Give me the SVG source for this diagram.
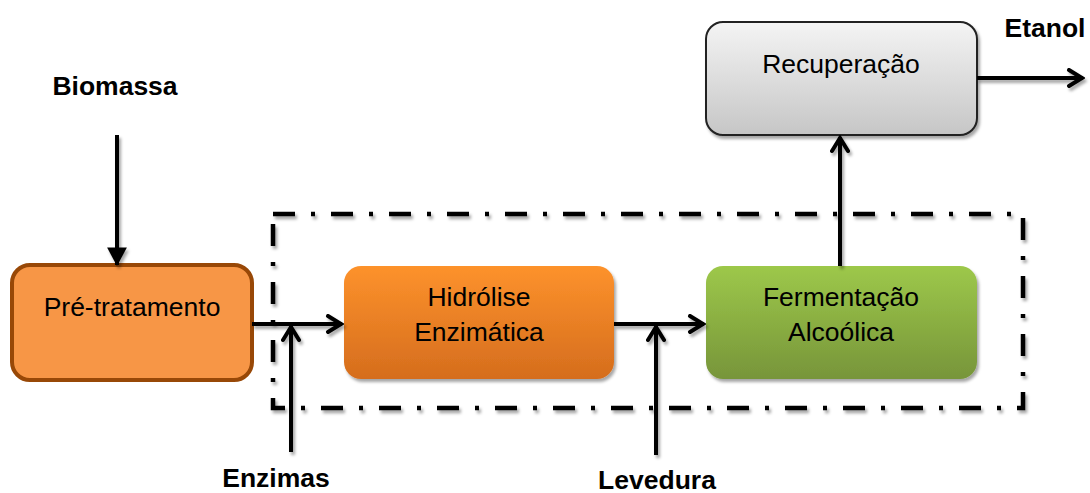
<svg xmlns="http://www.w3.org/2000/svg" width="1090" height="493" viewBox="0 0 1090 493">
<defs>
<linearGradient id="gOrange" x1="0" y1="0" x2="0" y2="1"><stop offset="0" stop-color="#fd922c"/><stop offset="1" stop-color="#d56d1d"/></linearGradient>
<linearGradient id="gGreen" x1="0" y1="0" x2="0" y2="1"><stop offset="0" stop-color="#9dc84a"/><stop offset="1" stop-color="#77953a"/></linearGradient>
<linearGradient id="gGrey" x1="0" y1="0" x2="0" y2="1"><stop offset="0" stop-color="#f4f4f4"/><stop offset="1" stop-color="#c6c6c6"/></linearGradient>
<filter id="sh" x="-10%" y="-10%" width="130%" height="140%"><feDropShadow dx="2" dy="3" stdDeviation="1.5" flood-color="#000" flood-opacity="0.35"/></filter>
<marker id="open" viewBox="0 0 20 20" refX="18" refY="10" markerWidth="20" markerHeight="20" markerUnits="userSpaceOnUse" orient="auto"><path d="M4,2 L17,10 L4,18" fill="none" stroke="#000" stroke-width="4" stroke-linecap="round" stroke-linejoin="miter"/></marker>
<marker id="fill" viewBox="0 0 20 20" refX="18" refY="10" markerWidth="22" markerHeight="22" markerUnits="userSpaceOnUse" orient="auto"><path d="M2,1 L19,10 L2,19 Z" fill="#000"/></marker>
</defs>
<style>
.lbl{font-family:"Liberation Sans",Arial,sans-serif;font-size:26.5px;fill:#000;text-anchor:middle}
.b{font-weight:bold}
.ln{stroke:#000;stroke-width:4;fill:none}
</style>
<g id="boundary" filter="url(#sh)">
<rect x="273" y="214" width="750" height="194" fill="none" stroke="#000" stroke-width="4.5" stroke-dasharray="22 16 4 16"/>
</g>
<g id="pre-tratamento">
<rect x="12" y="265" width="240" height="115" rx="18" fill="#f79646" stroke="#984807" stroke-width="4"/>
<text class="lbl" x="132" y="316">Pré-tratamento</text>
</g>
<g id="hidrolise">
<rect x="344" y="266" width="270" height="113" rx="17" fill="url(#gOrange)" filter="url(#sh)"/>
<text class="lbl" x="479" y="306">Hidrólise</text>
<text class="lbl" x="479" y="341">Enzimática</text>
</g>
<g id="fermentacao">
<rect x="706" y="266" width="271" height="113" rx="17" fill="url(#gGreen)" filter="url(#sh)"/>
<text class="lbl" x="841" y="306">Fermentação</text>
<text class="lbl" x="841" y="341">Alcoólica</text>
</g>
<g id="recuperacao">
<rect x="706" y="22" width="271" height="113" rx="17" fill="url(#gGrey)" stroke="#222" stroke-width="2" filter="url(#sh)"/>
<text class="lbl" x="841" y="73">Recuperação</text>
</g>
<g id="labels">
<text class="lbl b" x="115" y="95">Biomassa</text>
<text class="lbl b" x="1045" y="37">Etanol</text>
<text class="lbl b" x="276" y="487">Enzimas</text>
<text class="lbl b" x="657" y="489">Levedura</text>
</g>
<g id="connectors" filter="url(#sh)">
<line class="ln" x1="117" y1="135" x2="117" y2="265" marker-end="url(#fill)"/>
<line class="ln" x1="252" y1="324" x2="342" y2="324" marker-end="url(#open)"/>
<line class="ln" x1="291" y1="452" x2="291" y2="326" marker-end="url(#open)"/>
<line class="ln" x1="614" y1="324" x2="704" y2="324" marker-end="url(#open)"/>
<line class="ln" x1="656" y1="455" x2="656" y2="326" marker-end="url(#open)"/>
<line class="ln" x1="840" y1="266" x2="840" y2="137" marker-end="url(#open)"/>
<line class="ln" x1="977" y1="78" x2="1083" y2="78" marker-end="url(#open)"/>
</g>
</svg>
